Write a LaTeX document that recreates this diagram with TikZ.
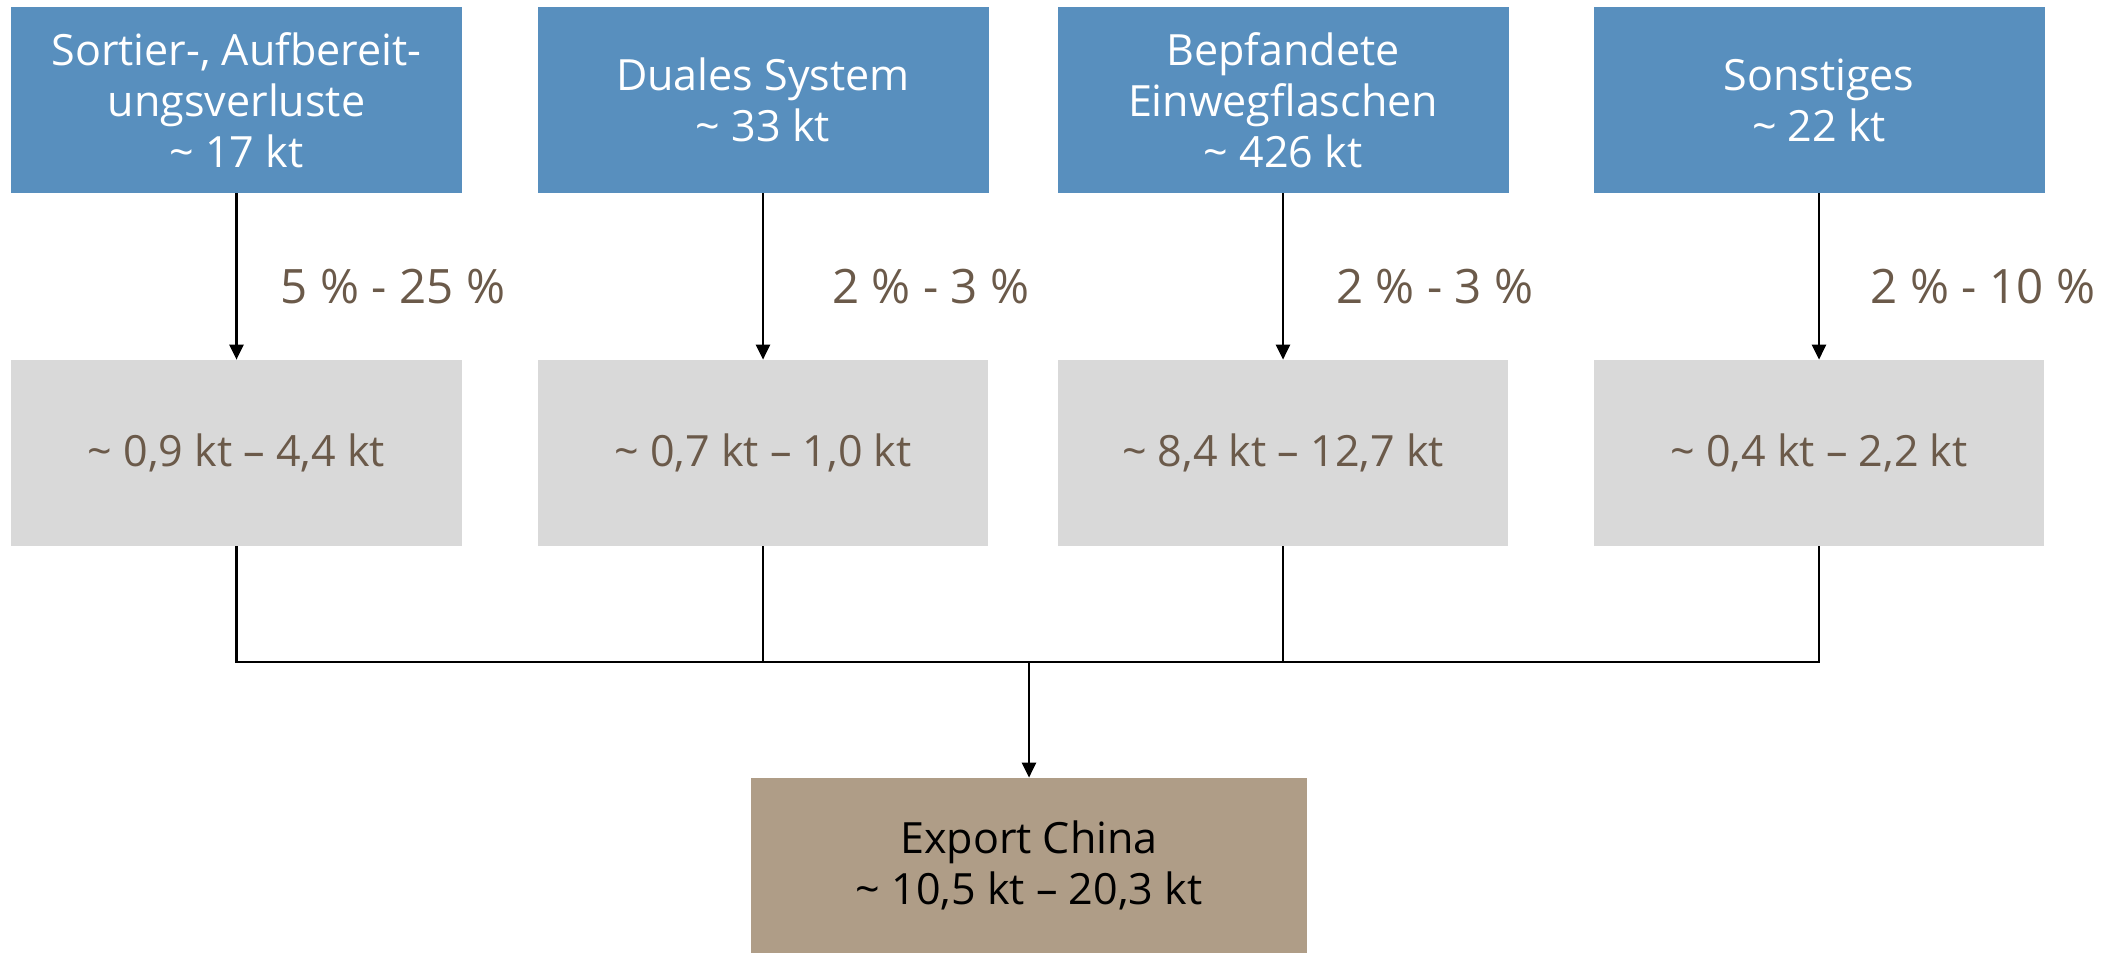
\documentclass[tikz,border=0pt]{standalone}
\usepackage{fontspec}
\setmainfont{Open Sans}
\usetikzlibrary{arrows.meta}
\definecolor{srcblue}{HTML}{588FBE}
\definecolor{midgray}{HTML}{D9D9D9}
\definecolor{exptan}{HTML}{AF9D87}
\definecolor{txtbrown}{HTML}{6B5A4A}
\tikzset{
  srcbox/.style={fill=srcblue, text=white, minimum width=9.02cm, minimum height=3.72cm,
    align=center, font=\fontsize{24.5}{29}\selectfont},
  amtbox/.style={fill=midgray, text=txtbrown, minimum width=9.0cm, minimum height=3.72cm,
    align=center, font=\fontsize{24.5}{29}\selectfont},
  expbox/.style={fill=exptan, text=black, minimum width=11.12cm, minimum height=3.5cm,
    align=center, font=\fontsize{24.5}{29}\selectfont},
  share/.style={text=txtbrown, font=\fontsize{27}{32}\selectfont},
  flow/.style={line width=1.4pt, -{Triangle[length=0.3cm,width=0.28cm]}},
  link/.style={line width=1.4pt}
}
\begin{document}
\begin{tikzpicture}
  \useasboundingbox (0,0) rectangle (42.26,-19.06);
  % sources
  \node[srcbox] (s1) at (4.73,-2.0) {Sortier-, Aufbereit-\\ungsverluste\\\textasciitilde{} 17 kt};
  \node[srcbox] (s2) at (15.26,-2.0) {Duales System\\\textasciitilde{} 33 kt};
  \node[srcbox] (s3) at (25.66,-2.0) {Bepfandete\\Einwegflaschen\\\textasciitilde{} 426 kt};
  \node[srcbox] (s4) at (36.38,-2.0) {Sonstiges\\\textasciitilde{} 22 kt};
  % amounts
  \node[amtbox] (a1) at (4.73,-9.06) {\textasciitilde{} 0,9 kt -- 4,4 kt};
  \node[amtbox] (a2) at (15.26,-9.06) {\textasciitilde{} 0,7 kt -- 1,0 kt};
  \node[amtbox] (a3) at (25.66,-9.06) {\textasciitilde{} 8,4 kt -- 12,7 kt};
  \node[amtbox] (a4) at (36.38,-9.06) {\textasciitilde{} 0,4 kt -- 2,2 kt};
  % shares
  \node[share] (p1) at (7.86,-5.74) {5 \% - 25 \%};
  \node[share] (p2) at (18.62,-5.74) {2 \% - 3 \%};
  \node[share] (p3) at (28.70,-5.74) {2 \% - 3 \%};
  \node[share] (p4) at (39.66,-5.74) {2 \% - 10 \%};
  % export
  \node[expbox] (ex) at (20.58,-17.31) {Export China\\\textasciitilde{} 10,5 kt -- 20,3 kt};
  \coordinate (bus) at (20.58,-13.24);
  \draw [flow] (s1) -- (a1);
  \draw [flow] (s2) -- (a2);
  \draw [flow] (s3) -- (a3);
  \draw [flow] (s4) -- (a4);
  \draw [link] (a1) |- (bus);
  \draw [link] (a4) |- (bus);
  \draw [link] (a2) -- (a2 |- bus);
  \draw [link] (a3) -- (a3 |- bus);
  \draw [flow] (bus) -- (ex);
\end{tikzpicture}
\end{document}
